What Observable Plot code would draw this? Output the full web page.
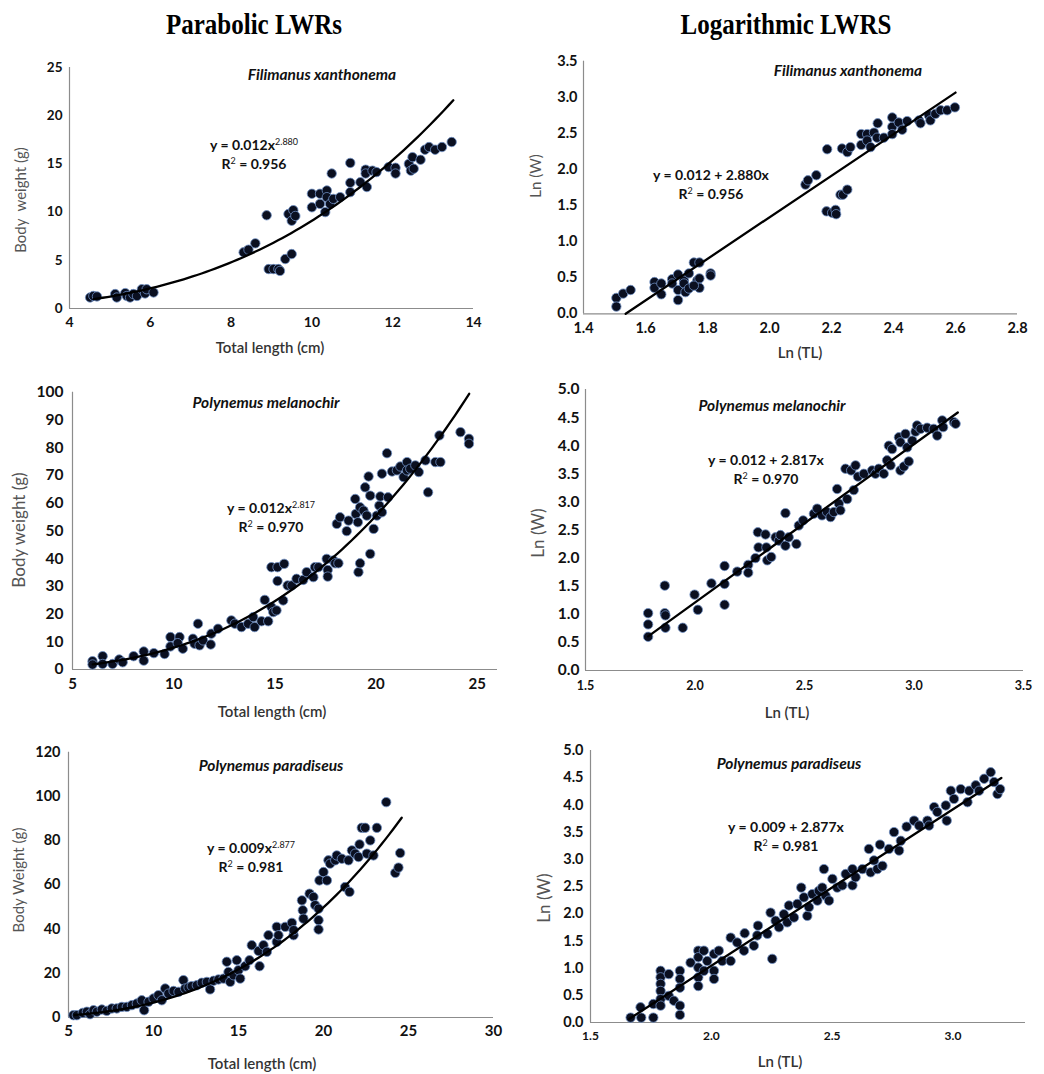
<!DOCTYPE html>
<html>
<head>
<meta charset="utf-8">
<script src="https://cdn.jsdelivr.net/npm/d3@7"></script>
<script src="https://cdn.jsdelivr.net/npm/@observablehq/plot@0.6"></script>
<style>
  body { margin: 0; background: #fff; }
  #root { position: relative; width: 1044px; height: 1074px; background: #fff; overflow: hidden; font-family: Lato, "Open Sans", sans-serif; }
  .abs { position: absolute; white-space: nowrap; }
  .c { transform: translate(-50%, -50%); }
  .hdr { font-family: "Liberation Serif", "Times New Roman", serif; font-weight: bold; font-size: 25px; color: #000; transform: translate(-50%, -50%) scaleY(1.2); }
  .sp { font-weight: bold; font-style: italic; font-size: 15.5px; color: #111; }
  .eq { font-weight: bold; font-size: 14px; color: #111; text-align: center; line-height: 19px; }
  .eq sup { font-size: 9px; font-weight: normal; vertical-align: 5px; line-height: 0; }
  .ax { font-size: 15px; color: #333; font-weight: 600; }
  .ay { font-size: 15px; color: #555; transform: translate(-50%, -50%) rotate(-90deg); }
  .ay.big { font-size: 17px; }
</style>
</head>
<body>
<div id="root"></div>
<script>
// ---------- DATA ----------
// Filimanus xanthonema : [total length (cm), body weight (g)]
const fxParabolic = [
  [4.51,1.14],[4.59,1.3],[4.68,1.25],[5.13,1.5],[5.17,1.14],[5.38,1.6],[5.42,1.3],[5.5,1.14],[5.58,1.5],[5.67,1.3],
  [5.79,2.0],[5.87,1.56],[5.91,2.0],[6.08,1.66],[8.31,5.83],[8.43,6.1],[8.6,6.76],[8.88,9.67],[8.93,4.09],[9.05,4.09],
  [9.17,4.09],[9.21,3.9],[9.34,5.13],[9.5,5.65],[9.42,9.8],[9.5,9.1],[9.54,10.2],[9.59,9.6],[10.0,11.9],[10.0,10.5],
  [10.2,11.9],[10.2,10.85],[10.37,12.24],[10.37,11.55],[10.33,10.0],[10.45,10.85],[10.49,14.0],[10.53,11.37],[10.7,11.55],[10.95,15.1],
  [10.95,13.04],[10.95,12.07],[11.2,13.1],[11.33,14.4],[11.33,14.0],[11.36,12.6],[11.5,14.3],[11.6,14.15],[11.9,14.67],[12.07,14.6],
  [12.07,14.0],[12.4,15.0],[12.45,14.3],[12.49,15.7],[12.52,14.5],[12.69,15.43],[12.8,16.47],[12.9,16.75],[13.05,16.47],[13.22,16.75],[13.46,17.27]
];
// Filimanus xanthonema : [Ln(TL), Ln(W)]
const fxLog = [
  [1.506,0.22],[1.506,0.10],[1.528,0.28],[1.552,0.33],[1.629,0.44],[1.629,0.36],[1.651,0.42],[1.651,0.27],[1.686,0.48],[1.686,0.42],
  [1.705,0.545],[1.705,0.33],[1.705,0.19],[1.724,0.46],[1.724,0.42],[1.729,0.30],[1.740,0.56],[1.740,0.35],[1.756,0.71],[1.767,0.46],
  [1.774,0.71],[1.774,0.49],[1.774,0.36],[1.756,0.39],[1.810,0.56],[1.810,0.53],[2.116,1.79],[2.124,1.85],[2.151,1.92],[2.186,2.28],
  [2.184,1.42],[2.202,1.40],[2.213,1.44],[2.215,1.38],[2.229,1.65],[2.237,1.65],[2.251,1.72],[2.234,2.29],[2.251,2.24],[2.261,2.31],
  [2.296,2.49],[2.296,2.34],[2.315,2.49],[2.315,2.40],[2.326,2.31],[2.337,2.51],[2.347,2.44],[2.349,2.64],[2.369,2.44],[2.396,2.72],
  [2.396,2.59],[2.396,2.49],[2.417,2.65],[2.428,2.55],[2.444,2.67],[2.482,2.68],[2.487,2.64],[2.514,2.75],[2.519,2.68],[2.535,2.77],
  [2.552,2.82],[2.573,2.82],[2.598,2.86]
];
// Polynemus melanochir : [total length (cm), body weight (g)]
const pmParabolic = [
  [5.99,3.0],[5.99,1.8],[6.49,4.8],[6.49,2.0],[6.98,2.0],[7.31,3.6],[7.48,2.6],[8.02,4.8],[8.52,6.5],[8.52,3.2],
  [9.02,5.9],[9.55,5.6],[9.84,11.7],[9.84,8.3],[10.29,11.7],[10.2,9.5],[10.45,7.5],[10.95,11.1],[11.03,9.3],[11.2,16.5],
  [11.28,8.7],[11.45,10.5],[11.83,9.0],[11.86,12.9],[12.19,14.7],[12.85,17.7],[13.02,16.5],[13.35,15.3],[13.68,16.5],[13.93,18.9],
  [14.0,15.3],[14.34,17.4],[14.5,25.1],[14.67,17.4],[14.83,22.5],[14.92,20.7],[15.08,21.3],[14.83,36.9],[15.13,36.9],[15.13,31.9],
  [15.46,38.1],[15.41,24.9],[15.63,30.3],[15.83,30.3],[16.07,32.7],[16.4,32.3],[16.57,35.1],[16.9,33.3],[16.98,36.9],[17.15,36.9],
  [17.56,39.9],[17.61,35.9],[17.61,33.5],[17.89,39.3],[17.98,38.3],[18.14,38.3],[18.06,52.5],[18.22,54.9],[18.55,49.9],[18.64,53.7],
  [18.97,61.5],[19.0,56.1],[19.1,53.1],[19.13,35.1],[19.21,38.3],[19.21,58.5],[19.38,57.3],[19.46,65.7],[19.54,55.5],[19.63,69.6],
  [19.71,62.7],[19.71,41.7],[19.88,50.7],[20.04,55.5],[20.16,59.1],[20.21,62.4],[20.29,70.6],[20.29,56.7],[20.54,78.0],[20.59,62.1],
  [20.79,71.4],[21.03,71.8],[21.2,73.2],[21.36,69.4],[21.53,74.8],[21.53,71.8],[21.69,72.4],[21.94,73.6],[22.11,71.2],[22.44,75.4],
  [22.57,63.9],[22.93,74.8],[23.18,74.8],[23.13,84.4],[24.17,85.6],[24.59,83.2],[24.59,81.4]
];
// Polynemus melanochir : [Ln(TL), Ln(W)]
const pmLog = [
  [1.786,1.02],[1.786,0.82],[1.786,0.60],[1.862,1.51],[1.862,1.02],[1.865,0.98],[1.865,0.76],[1.944,0.76],[1.998,1.35],[2.013,1.08],
  [2.075,1.55],[2.135,1.86],[2.135,1.54],[2.135,1.17],[2.193,1.76],[2.243,1.88],[2.243,1.74],[2.276,2.0],[2.287,2.46],[2.29,2.19],
  [2.322,2.42],[2.326,2.19],[2.33,1.96],[2.348,2.02],[2.368,2.37],[2.383,2.31],[2.39,2.41],[2.413,2.80],[2.413,2.22],[2.428,2.37],
  [2.463,2.25],[2.474,2.58],[2.494,2.67],[2.543,2.79],[2.558,2.88],[2.58,2.76],[2.603,2.82],[2.619,2.73],[2.634,2.82],[2.649,3.23],
  [2.657,2.97],[2.664,2.85],[2.695,3.05],[2.687,3.59],[2.713,3.56],[2.725,3.21],[2.733,3.65],[2.744,3.45],[2.771,3.50],[2.809,3.56],
  [2.824,3.50],[2.839,3.59],[2.862,3.50],[2.877,3.74],[2.893,3.65],[2.885,4.0],[2.9,3.94],[2.931,4.15],[2.938,4.06],[2.938,3.56],
  [2.954,3.63],[2.961,4.21],[2.969,3.97],[2.976,3.72],[2.992,4.09],[3.007,4.25],[3.014,4.36],[3.03,4.30],[3.06,4.32],[3.09,4.30],
  [3.106,4.18],[3.129,4.45],[3.133,4.33],[3.182,4.42],[3.19,4.39]
];
// Polynemus paradiseus : [total length (cm), body weight (g)]
const ppParabolic = [
  [5.29,1.05],[5.49,1.05],[5.84,2.1],[6.08,2.6],[6.27,1.5],[6.47,3.3],[6.67,2.6],[6.96,3.6],[7.25,3.0],[7.55,4.1],
  [7.84,4.1],[8.14,4.8],[8.43,4.8],[8.73,5.6],[9.02,6.3],[9.31,7.8],[9.45,3.3],[9.71,7.1],[10.0,8.6],[10.29,10.1],
  [10.49,7.8],[10.69,13.1],[10.88,10.8],[11.18,12.0],[11.47,11.6],[11.76,16.9],[11.86,13.1],[12.06,13.6],[12.25,14.2],[12.55,14.6],
  [12.84,15.7],[13.14,16.1],[13.33,12.7],[13.53,16.6],[13.82,17.2],[14.12,17.6],[14.31,25.2],[14.41,20.6],[14.51,16.1],[14.71,19.1],
  [14.9,25.9],[15.0,21.4],[15.1,17.6],[15.39,23.2],[15.65,25.9],[15.78,32.7],[16.18,30.1],[16.24,23.2],[16.47,32.7],[16.67,29.7],
  [16.76,37.2],[17.25,34.2],[17.25,41.0],[17.35,37.2],[17.75,41.0],[18.14,42.8],[18.24,37.2],[18.24,39.5],[18.73,53.0],[18.78,48.5],
  [18.82,44.7],[19.18,56.0],[19.41,54.5],[19.51,50.8],[19.71,49.2],[19.71,44.0],[19.71,39.8],[19.76,62.0],[20.0,65.8],[20.2,62.0],
  [20.29,71.1],[20.39,69.6],[20.69,71.1],[20.78,73.3],[21.08,71.8],[21.27,59.0],[21.47,71.1],[21.53,56.8],[21.67,75.6],[21.86,74.1],
  [22.06,72.6],[22.12,78.3],[22.25,85.8],[22.45,85.8],[22.55,74.1],[22.75,80.1],[22.94,73.3],[23.14,85.8],[23.69,97.4],[24.22,65.4],
  [24.41,67.8],[24.51,74.4]
];
// Polynemus paradiseus : [Ln(TL), Ln(W)]
const ppLog = [
  [1.666,0.09],[1.71,0.09],[1.707,0.28],[1.76,0.09],[1.76,0.34],[1.79,0.95],[1.79,0.83],[1.79,0.71],[1.79,0.58],[1.79,0.43],
  [1.79,0.31],[1.824,0.89],[1.824,0.49],[1.845,0.40],[1.87,0.95],[1.87,0.80],[1.87,0.64],[1.87,0.31],[1.87,0.14],[1.914,1.10],
  [1.946,1.32],[1.946,1.20],[1.946,1.01],[1.946,0.83],[1.946,0.67],[1.969,1.32],[1.969,0.95],[1.983,1.13],[2.011,1.26],[2.011,0.95],
  [2.011,0.80],[2.031,1.32],[2.045,1.13],[2.08,1.13],[2.08,1.56],[2.107,1.47],[2.135,1.32],[2.138,1.64],[2.176,1.41],[2.19,1.60],
  [2.193,1.78],[2.232,1.63],[2.245,2.02],[2.252,1.17],[2.266,1.87],[2.28,1.75],[2.30,1.99],[2.314,1.84],[2.321,2.15],[2.342,1.93],
  [2.356,2.18],[2.372,2.48],[2.383,2.30],[2.397,1.96],[2.404,2.12],[2.418,2.36],[2.439,2.24],[2.445,2.42],[2.459,2.48],[2.466,2.82],
  [2.473,2.33],[2.487,2.24],[2.501,2.64],[2.521,2.48],[2.542,2.52],[2.556,2.73],[2.584,2.82],[2.584,2.52],[2.597,2.67],[2.625,2.82],
  [2.652,3.19],[2.659,2.76],[2.673,2.98],[2.687,2.82],[2.698,3.27],[2.708,2.88],[2.735,3.19],[2.756,3.50],[2.777,3.16],[2.784,3.34],
  [2.808,3.60],[2.839,3.71],[2.86,3.62],[2.894,3.71],[2.901,3.62],[2.922,3.96],[2.935,3.87],[2.97,3.99],[2.974,3.71],[2.991,4.26],
  [3.004,4.11],[3.032,4.29],[3.06,4.05],[3.067,4.26],[3.094,4.36],[3.108,4.26],[3.129,4.48],[3.156,4.60],[3.17,4.42],[3.184,4.20],[3.195,4.29]
];
// Fitted relations as printed in the chart: W = a * TL^b  and  ln W = ln a + b ln TL
const species = ["Filimanus xanthonema", "Polynemus melanochir", "Polynemus paradiseus"];
const fitA = [0.012, 0.012, 0.009];
const fitB = [2.880, 2.817, 2.877];
const fitR2 = [0.956, 0.970, 0.981];
const fitTLRange = [[4.6, 13.5], [6.0, 24.6], [5.35, 24.6]];
const fitLnTLRange = [[1.536, 2.60], [1.786, 3.20], [1.66, 3.20]];
// Axis tick values
const fxTicksX = [4, 6, 8, 10, 12, 14], fxTicksY = [0, 5, 10, 15, 20, 25];
const fxLnTicksX = [1.4, 1.6, 1.8, 2.0, 2.2, 2.4, 2.6, 2.8], fxLnTicksY = [0, 0.5, 1, 1.5, 2, 2.5, 3, 3.5];
const pmTicksX = [5, 10, 15, 20, 25], pmTicksY = [0, 10, 20, 30, 40, 50, 60, 70, 80, 90, 100];
const pmLnTicksX = [1.5, 2.0, 2.5, 3.0, 3.5], lnTicksY5 = [0, 0.5, 1, 1.5, 2, 2.5, 3, 3.5, 4, 4.5, 5];
const ppTicksX = [5, 10, 15, 20, 25, 30], ppTicksY = [0, 20, 40, 60, 80, 100, 120];
const ppLnTicksX = [1.5, 2.0, 2.5, 3.0];

// ---------- DRAW ----------
const root = document.getElementById("root");
function addDiv(cls, html, x, y) {
  const d = document.createElement("div");
  d.className = "abs " + cls;
  d.innerHTML = html;
  d.style.left = x + "px";
  d.style.top = y + "px";
  root.appendChild(d);
  return d;
}

function curvePoints(k, log) {
  const [x0, x1] = log ? fitLnTLRange[k] : fitTLRange[k];
  const n = log ? 1 : 80;
  return d3.range(n + 1).map(i => {
    const x = x0 + (x1 - x0) * i / n;
    return log ? {x, y: Math.log(fitA[k]) + fitB[k] * x} : {x, y: fitA[k] * Math.pow(x, fitB[k])};
  });
}

function panel(o) {
  const plot = Plot.plot({
    width: o.w, height: o.h,
    marginLeft: o.ml, marginRight: o.mr, marginTop: o.mt, marginBottom: o.mb,
    x: {domain: o.xd, label: null},
    y: {domain: o.yd, label: null},
    style: {fontFamily: "Lato, 'Open Sans', sans-serif", fontWeight: "bold", color: "#111", background: "transparent", overflow: "visible"},
    marks: [
      Plot.axisY({ticks: o.yt, tickFormat: o.yf, tickSize: 0, tickPadding: o.yp, fontSize: o.yfs, label: null}),
      Plot.axisX({ticks: o.xt, tickFormat: o.xf, tickSize: 0, tickPadding: o.xp, fontSize: o.xfs, label: null}),
      Plot.ruleX([o.xd[0]], {stroke: "#8c8c8c", strokeWidth: 1.2}),
      Plot.ruleY([o.yd[0]], {stroke: "#8c8c8c", strokeWidth: 1.2}),
      Plot.dot(o.data, {x: d => d[0], y: d => d[1], r: 4.7, fill: "#0a0f20", stroke: "#6f8fc4", strokeWidth: 0.8}),
      Plot.line(o.curve, {x: "x", y: "y", stroke: "#000", strokeWidth: 2.3})
    ]
  });
  const holder = document.createElement("div");
  holder.className = "abs";
  holder.style.left = o.left + "px";
  holder.style.top = o.top + "px";
  holder.appendChild(plot);
  root.appendChild(holder);
}

const f0 = d3.format("d"), f1 = d3.format(".1f");

panel({left: 0, top: 50, w: 520, h: 310, ml: 69, mr: 47, mt: 17, mb: 52,
  xd: [4, 14], yd: [0, 25], xt: fxTicksX, yt: fxTicksY, xf: f0, yf: f0, xp: 9, yp: 7, xfs: 14, yfs: 13.5,
  data: fxParabolic, curve: curvePoints(0, false)});
panel({left: 520, top: 50, w: 524, h: 310, ml: 63, mr: 27, mt: 10.7, mb: 46.7,
  xd: [1.4, 2.8], yd: [0, 3.5], xt: fxLnTicksX, yt: fxLnTicksY, xf: f1, yf: f1, xp: 9, yp: 6, xfs: 14.5, yfs: 14.5,
  data: fxLog, curve: curvePoints(0, true)});
panel({left: 0, top: 370, w: 520, h: 350, ml: 72, mr: 23, mt: 21.7, mb: 51,
  xd: [5, 26], yd: [0, 100], xt: pmTicksX, yt: pmTicksY, xf: f0, yf: f0, xp: 9, yp: 9, xfs: 15, yfs: 15.5,
  data: pmParabolic, curve: curvePoints(1, false)});
panel({left: 520, top: 370, w: 524, h: 350, ml: 65, mr: 21, mt: 19, mb: 50,
  xd: [1.5, 3.5], yd: [0, 5], xt: pmLnTicksX, yt: lnTicksY5, xf: f1, yf: f1, xp: 11, yp: 6, xfs: 12.5, yfs: 15.5,
  data: pmLog, curve: curvePoints(1, true)});
panel({left: 0, top: 740, w: 520, h: 334, ml: 68, mr: 27, mt: 11.7, mb: 57,
  xd: [5, 30], yd: [0, 120], xt: ppTicksX, yt: ppTicksY, xf: f0, yf: f0, xp: 8, yp: 8, xfs: 15, yfs: 14.5,
  data: ppParabolic, curve: curvePoints(2, false)});
panel({left: 520, top: 740, w: 524, h: 334, ml: 70, mr: 19, mt: 10, mb: 52,
  xd: [1.5, 3.3], yd: [0, 5], xt: ppLnTicksX, yt: lnTicksY5, xf: f1, yf: f1, xp: 9, yp: 7, xfs: 12, yfs: 14.5,
  data: ppLog, curve: curvePoints(2, true)});

// Headers
addDiv("hdr", "Parabolic LWRs", 254, 24);
addDiv("hdr", "Logarithmic LWRS", 786, 24);

// Species names
const spPos = [[322, 74], [848, 70], [266, 402], [772, 405], [271, 765], [789, 763]];
spPos.forEach((p, i) => addDiv("sp c", species[Math.floor(i / 2)], p[0], p[1]));

// Equations
const eqPos = [[254, 154], [711, 184], [271, 517], [766, 469], [251, 857], [786, 836]];
eqPos.forEach((p, i) => {
  const k = Math.floor(i / 2), log = i % 2 === 1;
  const a = d3.format(".3f")(fitA[k]), b = d3.format(".3f")(fitB[k]), r = d3.format(".3f")(fitR2[k]);
  const line1 = log ? `y = ${a} + ${b}x` : `y = ${a}x<sup>${b}</sup>`;
  addDiv("eq c", `${line1}<br>R<sup>2</sup> = ${r}`, p[0], p[1]);
});

// Axis titles
addDiv("ax c", "Total length (cm)", 270, 347);
addDiv("ax c", "Ln (TL)", 800, 352);
addDiv("ax c", "Total length (cm)", 272, 711);
addDiv("ax c", "Ln (TL)", 787, 712);
addDiv("ax c", "Total length (cm)", 262, 1063);
addDiv("ax c", "Ln (TL)", 780, 1061);
addDiv("ay", "Body&nbsp; weight (g)", 20, 200);
addDiv("ay", "Ln (W)", 535, 176);
addDiv("ay big", "Body weight (g)", 18, 530);
addDiv("ay big", "Ln (W)", 537, 533);
addDiv("ay", "Body Weight (g)", 18, 880);
addDiv("ay big", "Ln (W)", 543, 898);
</script>
</body>
</html>
